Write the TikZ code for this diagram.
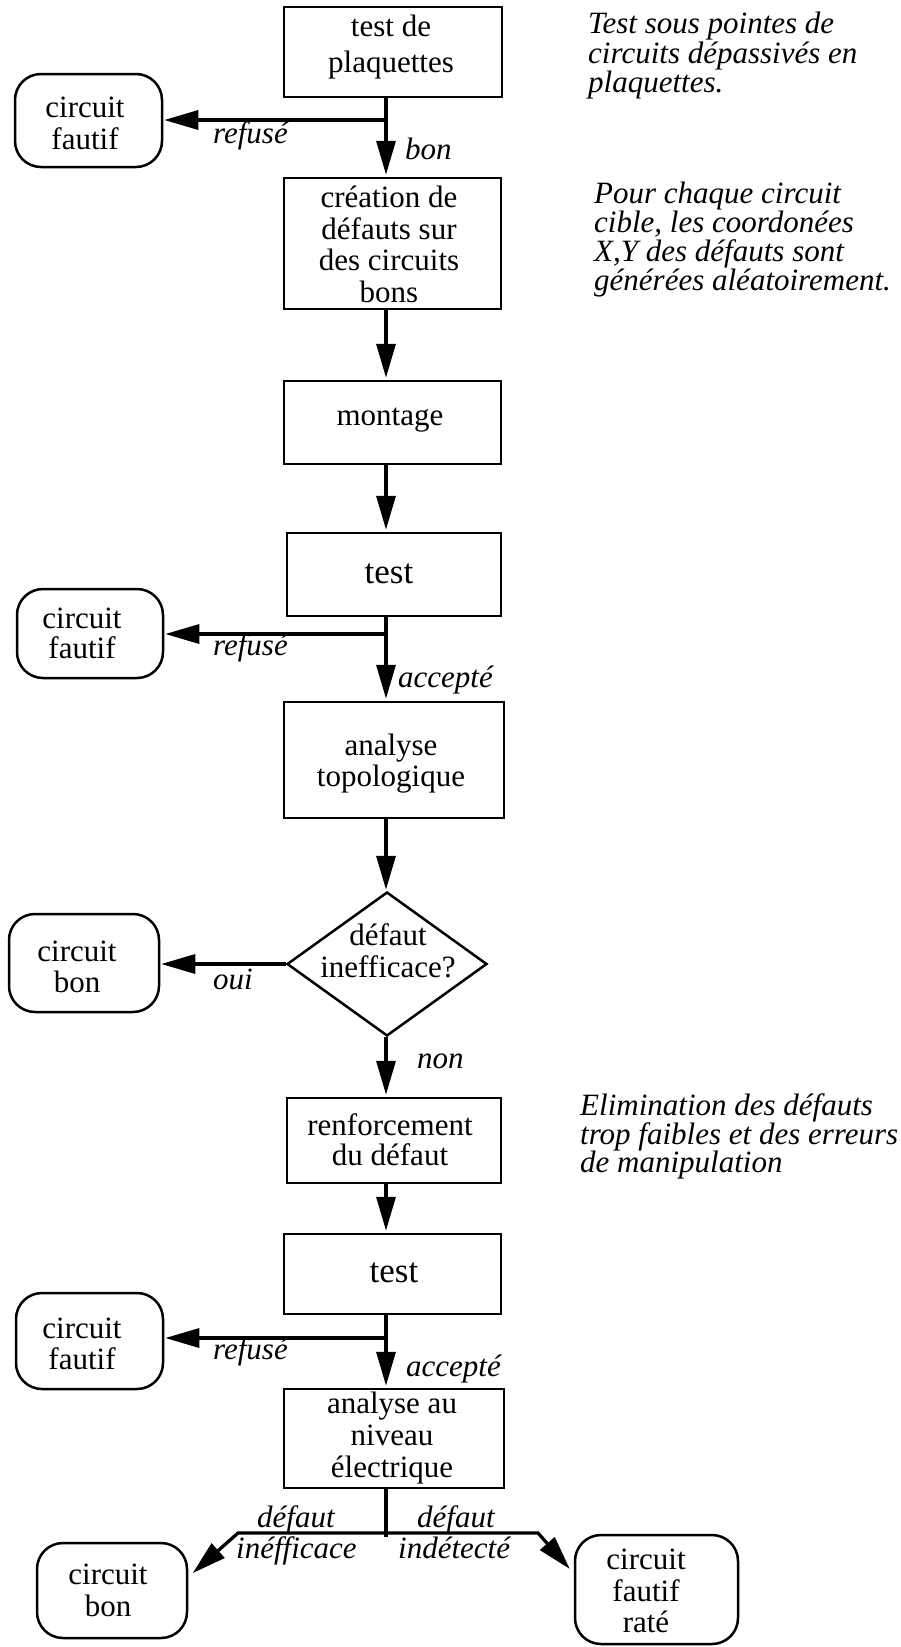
\documentclass[tikz,border=0pt]{standalone}
\usepackage{fontspec}
\setmainfont{Liberation Serif}
\usetikzlibrary{arrows.meta,shapes.geometric}
\lineskiplimit=-40pt
\begin{document}
\begin{tikzpicture}[x=1pt,y=-1pt,
  box/.style={draw,line width=2.5pt,inner sep=0pt,rectangle},
  rbox/.style={draw,line width=2.5pt,rounded corners=26pt,inner sep=0pt,rectangle},
  dia/.style={draw,line width=2.5pt,inner sep=0pt,diamond},
  txt/.style={inner sep=0pt,align=center,anchor=north},
  stxt/.style={inner sep=0pt,anchor=base},
  lab/.style={inner sep=0pt,anchor=base west,font=\fontsize{31}{31}\selectfont\itshape},
  note/.style={inner sep=0pt,anchor=north west,align=left},
  conn/.style={line width=3.3pt},
  arr/.style={conn,-{Triangle[length=34pt,width=19pt]},shorten >=2pt},
]
\useasboundingbox (0,0) rectangle (901,1647);
\coordinate (ax) at (386,0);

% main column shapes
\node[box,minimum width=218pt,minimum height=90pt]  (b1) at (393,52) {};
\node[box,minimum width=217pt,minimum height=131pt] (b2) at (392.5,243.5) {};
\node[box,minimum width=217pt,minimum height=83pt]  (b3) at (392.5,422.5) {};
\node[box,minimum width=214pt,minimum height=83pt]  (b4) at (394,574.5) {};
\node[box,minimum width=220pt,minimum height=116pt] (b5) at (394,760) {};
\node[dia,minimum width=200pt,minimum height=144pt] (d)  at (387,964) {};
\node[box,minimum width=214pt,minimum height=85pt]  (b6) at (394,1140.5) {};
\node[box,minimum width=217pt,minimum height=80pt]  (b7) at (392.5,1274) {};
\node[box,minimum width=220pt,minimum height=99pt]  (b8) at (394,1438.5) {};

% rounded end boxes
\node[rbox,minimum width=147pt,minimum height=93pt]  (r1) at (88.5,120.5) {};
\node[rbox,minimum width=146pt,minimum height=89pt]  (r2) at (90,633.5) {};
\node[rbox,minimum width=150pt,minimum height=98pt]  (r3) at (84,963) {};
\node[rbox,minimum width=147pt,minimum height=96pt]  (r4) at (89.5,1341) {};
\node[rbox,minimum width=150pt,minimum height=95pt]  (r5) at (112,1590.5) {};
\node[rbox,minimum width=163pt,minimum height=109pt] (r6) at (656.5,1589.5) {};

% box texts
\node[txt,font=\fontsize{31}{36}\selectfont] (tb1) at (391,14.8) {test de\\plaquettes};
\node[txt,font=\fontsize{31}{31.7}\selectfont] (tb2) at (389,185.8) {création de\\défauts sur\\des circuits\\bons};
\node[stxt,font=\fontsize{31}{31}\selectfont] (tb3) at (390,425) {montage};
\node[stxt,font=\fontsize{35}{35}\selectfont] (tb4) at (389,583) {test};
\node[txt,font=\fontsize{31}{31}\selectfont] (tb5) at (391,733.8) {analyse\\topologique};
\node[txt,font=\fontsize{31}{32}\selectfont] (td) at (388,923.8) {défaut\\inefficace?};
\node[txt,font=\fontsize{31}{30}\selectfont] (tb6) at (390,1113.8) {renforcement\\du défaut};
\node[stxt,font=\fontsize{35}{35}\selectfont] (tb7) at (394,1282) {test};
\node[txt,font=\fontsize{31}{32}\selectfont] (tb8) at (392,1391.8) {analyse au\\niveau\\électrique};

\node[txt,font=\fontsize{31}{32}\selectfont] (tr1) at (85,96.8) {circuit\\fautif};
\node[txt,font=\fontsize{31}{30}\selectfont] (tr2) at (82,607.8) {circuit\\fautif};
\node[txt,font=\fontsize{31}{31}\selectfont] (tr3) at (77,940.8) {circuit\\bon};
\node[txt,font=\fontsize{31}{31}\selectfont] (tr4) at (82,1317.8) {circuit\\fautif};
\node[txt,font=\fontsize{31}{32}\selectfont] (tr5) at (108,1563.8) {circuit\\bon};
\node[txt,font=\fontsize{31}{31.5}\selectfont] (tr6) at (646,1548.8) {circuit\\fautif\\raté};

% side notes
\node[note,font=\fontsize{31}{29.5}\selectfont\itshape] (n1) at (588,11.8)
  {Test sous pointes de\\circuits dépassivés en\\plaquettes.};
\node[note,font=\fontsize{31}{29}\selectfont\itshape] (n2) at (594,181.8)
  {Pour chaque circuit\\cible, les coordonées\\X,Y des défauts sont\\générées aléatoirement.};
\node[note,font=\fontsize{31}{28.5}\selectfont\itshape] (n3) at (580,1093.8)
  {Elimination des défauts\\trop faibles et des erreurs\\de manipulation};

% junctions
\coordinate (j1) at (386,120);
\coordinate (j2) at (386,634);
\coordinate (j3) at (386,1338);
\coordinate (jb) at (386,1537);
\coordinate (hl) at (238,1533);
\coordinate (hr) at (538,1533);

% connectors
\draw[arr] (b1.south -| ax) -- (b2.north -| ax);
\draw[arr,shorten >=1pt] (j1) -- (r1.east |- j1);
\draw[arr] (b2.south -| ax) -- (b3.north -| ax);
\draw[arr] (b3.south -| ax) -- (b4.north -| ax);
\draw[arr] (b4.south -| ax) -- (b5.north -| ax);
\draw[arr,shorten >=1pt] (j2) -- (r2.east |- j2);
\draw[arr,shorten >=1pt] (b5.south -| ax) -- (d.north -| ax);
\draw[arr,shorten >=1pt] (d.west) -- (r3.east |- d.west);
\draw[arr] (d.south -| ax) -- (b6.north -| ax);
\draw[arr] (b6.south -| ax) -- (b7.north -| ax);
\draw[arr] (b7.south -| ax) -- (b8.north -| ax);
\draw[arr,shorten >=1pt] (j3) -- (r4.east |- j3);
\draw[conn] (b8.south -| ax) -- (jb);
\draw[arr,shorten >=6pt] (hl -| ax) -- (hl) -- (r5.10);
\draw[arr,shorten >=6pt] (hr -| ax) -- (hr) -- (r6.169);

% connector labels
\node[lab] (l1) at (213,143) {refusé};
\node[lab] (l2) at (405,159) {bon};
\node[lab] (l3) at (213,655) {refusé};
\node[lab] (l4) at (398,687) {accepté};
\node[lab] (l5) at (213,989) {oui};
\node[lab] (l6) at (417,1068) {non};
\node[lab] (l7) at (213,1359) {refusé};
\node[lab] (l8) at (406,1376) {accepté};
\node[lab] (l9) at (257,1527) {défaut};
\node[lab] (l10) at (236,1558) {inéfficace};
\node[lab] (l11) at (417,1527) {défaut};
\node[lab] (l12) at (398,1558) {indétecté};
\end{tikzpicture}
\end{document}
